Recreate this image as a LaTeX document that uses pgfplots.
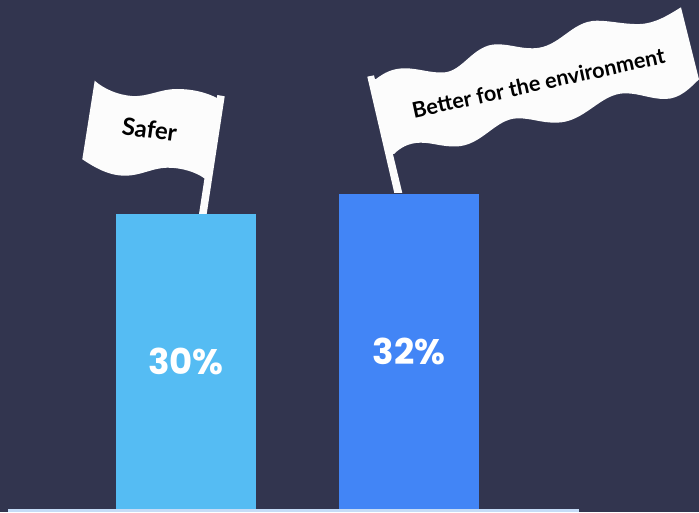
\documentclass[border=0pt]{standalone}
\usepackage{pgfplots}
\pgfplotsset{compat=1.18}
\usepackage{fontspec}
\setmainfont{Lato}
\newfontfamily\valuefont{Poppins}
\definecolor{bgnavy}{HTML}{32354F}
\definecolor{barsky}{HTML}{55BCF3}
\definecolor{barblue}{HTML}{4285F6}
\definecolor{baseline}{HTML}{C5DCF7}
\definecolor{flagwhite}{HTML}{FCFCFC}
\begin{document}
\begin{tikzpicture}
\begin{axis}[
  at={(0,0)}, anchor=south west,
  scale only axis, width=699pt, height=512pt,
  xmin=-0.8341, xmax=2.3004,
  ymin=-0.305, ymax=51.73,
  hide axis,
  clip=false,
]
\path[fill=bgnavy] (axis cs:-0.8341,-0.305) rectangle (axis cs:2.3004,51.73);
% axis base line
\path[fill=baseline] (axis cs:-0.7982,-0.305) rectangle (axis cs:1.7623,0);
\addplot[ybar, bar width=140pt, bar shift=0pt, draw=none, fill=barsky] coordinates {(0,30)};
\addplot[ybar, bar width=140pt, bar shift=0pt, draw=none, fill=barblue] coordinates {(1,32)};
\node[text=white, font=\valuefont\bfseries\fontsize{35.5}{35.5}\selectfont] at (axis cs:0,15) {30\%};
\node[text=white, font=\valuefont\bfseries\fontsize{35.5}{35.5}\selectfont] at (axis cs:1,16) {32\%};
\end{axis}
% flags, in a frame whose origin is the top left corner
\begin{scope}[shift={(0,512pt)}, x=1pt, y=-1pt]
  \fill[flagwhite] (217.3,95) -- (224.7,96.3) -- (206.7,214) -- (199,214) -- cycle;
  \fill[flagwhite] (94.7,80.7) .. controls (104,89) and (118,95) .. (132,96)
     .. controls (148,97) and (160,89) .. (177,89)
     .. controls (192,89) and (206,92) .. (219,99)
     -- (207,178.5) -- (204.5,178.5)
     .. controls (196,172) and (181,167.5) .. (167,167.7)
     .. controls (152,168) and (141,175.7) .. (125,175.7)
     .. controls (108,175.7) and (94,167) .. (82.3,159.3) -- cycle;
  \node[rotate=-8, font=\bfseries\fontsize{24}{24}\selectfont, text=black] at (149.5,129.5) {Safer};

  \fill[flagwhite] (367.3,76.7) -- (374,75.3) -- (402.3,193) -- (394.3,193) -- cycle;
  \fill[flagwhite] (373,80) -- (376,79) .. controls (384,73) and (392,68.3) .. (405,68.3)
     .. controls (418,68.3) and (430,73) .. (443,72.5)
     .. controls (463,72) and (473,44.3) .. (497,44.3)
     .. controls (510,44.3) and (520,48.5) .. (533,48.3)
     .. controls (560,48) and (571,20.7) .. (597,20.7)
     .. controls (611,20.7) and (624,24.5) .. (640,24)
     .. controls (656,23.5) and (670,14) .. (681,7.3)
     -- (699,79.3)
     .. controls (690,88) and (680,99) .. (665,99)
     .. controls (650,99) and (640,93.3) .. (625,93.3)
     .. controls (600,93.3) and (585,122.7) .. (556,122.7)
     .. controls (540,122.7) and (532,118.3) .. (518,118.3)
     .. controls (495,118.3) and (482,146.5) .. (455,146.5)
     .. controls (440,146.5) and (432,142.5) .. (420,142.7)
     .. controls (408,143) and (400,148) .. (394,154) -- (391,154) -- cycle;
  \node[rotate=12.3, font=\bfseries\fontsize{21.6}{21.6}\selectfont, text=black] at (538.5,83) {Better for the environment};
\end{scope}
\path[use as bounding box] (0,0) rectangle (699pt,512pt);
\end{tikzpicture}
\end{document}
